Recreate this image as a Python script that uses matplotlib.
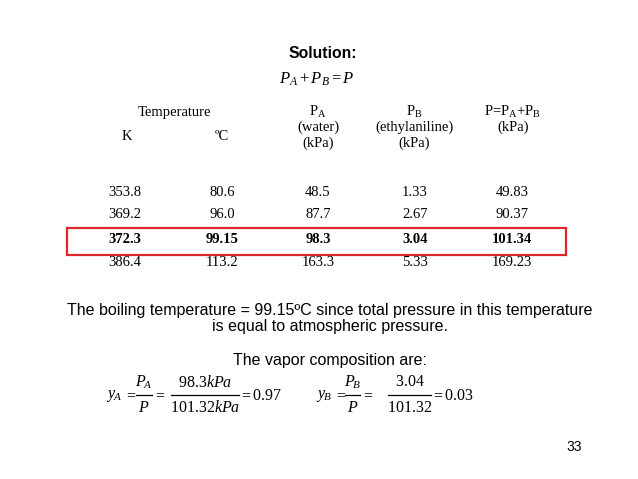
import matplotlib
matplotlib.use("Agg")
import matplotlib.pyplot as plt
from matplotlib.patches import Rectangle

plt.rcParams['mathtext.fontset'] = 'custom'
plt.rcParams['mathtext.rm'] = 'Liberation Serif'
plt.rcParams['mathtext.it'] = 'Liberation Serif:italic'
plt.rcParams['mathtext.bf'] = 'Liberation Serif:bold'

# table data (as printed on the slide)
temp_K = ["353.8", "369.2", "372.3", "386.4"]
temp_C = ["80.6", "96.0", "99.15", "113.2"]
p_water = ["48.5", "87.7", "98.3", "163.3"]
p_ethyl = ["1.33", "2.67", "3.04", "5.33"]
p_total = ["49.83", "90.37", "101.34", "169.23"]
highlight_row = 2

# vapour composition
y_A_num, y_A_den, y_A = "98.3", "101.32", "0.97"
y_B_num, y_B_den, y_B = "3.04", "101.32", "0.03"

W, H = 638, 479
fig = plt.figure(figsize=(W / 100, H / 100), dpi=100)
ax = fig.add_axes([0, 0, 1, 1])
ax.set_xlim(0, W)
ax.set_ylim(H, 0)
ax.axis('off')

sans = 'Liberation Sans'
serif = 'Liberation Serif'


def t(x, y, s, **kw):
    kw.setdefault('ha', 'center')
    kw.setdefault('va', 'center')
    ax.text(x, y, s, **kw)


t(323, 53, "Solution:", family=sans, fontweight='bold', fontsize=11.3)
t(317, 79, r"$P_A + P_B = P$", fontsize=12)

# header
hs = 10.5
t(174, 112, "Temperature", family=serif, fontsize=hs)
t(127, 137, "K", family=serif, fontsize=hs)
t(222, 137, "ºC", family=serif, fontsize=hs)
t(318, 112, r"P$_\mathrm{A}$", family=serif, fontsize=hs)
t(318, 127, "(water)", family=serif, fontsize=hs)
t(318, 143, "(kPa)", family=serif, fontsize=hs)
t(414, 112, r"P$_\mathrm{B}$", family=serif, fontsize=hs)
t(414, 127, "(ethylaniline)", family=serif, fontsize=hs)
t(414, 143, "(kPa)", family=serif, fontsize=hs)
t(513, 112, r"P=P$_\mathrm{A}$+P$_\mathrm{B}$", family=serif, fontsize=hs)
t(513, 127, "(kPa)", family=serif, fontsize=hs)

# rows
col_x = [125, 222, 318, 415, 512]
row_y = [193, 215, 239, 262]
for i, row in enumerate(zip(temp_K, temp_C, p_water, p_ethyl, p_total)):
    for x, val in zip(col_x, row):
        t(x, row_y[i], val, family=serif, fontsize=hs,
          fontweight='bold' if i == highlight_row else 'normal')

ax.add_patch(Rectangle((67, 228), 499, 27, fill=False, edgecolor='#e0262b', lw=1.6))

bs = 11.5
t(330, 310, "The boiling temperature = 99.15ºC since total pressure in this temperature",
  family=sans, fontsize=bs)
t(330, 327, "is equal to atmospheric pressure.", family=sans, fontsize=bs)
t(330, 360, "The vapor composition are:", family=sans, fontsize=bs)

# equations, laid out piece by piece
es = 11.5
ey = 395


def frac(x0, x1, num, den):
    ax.plot([x0, x1], [ey, ey], color='black', lw=0.9)
    t((x0 + x1) / 2, ey - 13, num, fontsize=es)
    t((x0 + x1) / 2, ey + 12, den, fontsize=es)


t(106, ey + 1, r"$y_{\!A}$", fontsize=es, ha='left')
t(130, ey, r"$=$", fontsize=es)
frac(136, 152, r"$P_{\!A}$", r"$P$")
t(159, ey, r"$=$", fontsize=es)
frac(171, 239, r"$\mathrm{%s}kPa$" % y_A_num, r"$\mathrm{%s}kPa$" % y_A_den)
t(245, ey, r"$=$", fontsize=es)
t(252, ey, r"$\mathrm{%s}$" % y_A, fontsize=es, ha='left')

t(316, ey + 1, r"$y_{\!B}$", fontsize=es, ha='left')
t(340, ey, r"$=$", fontsize=es)
frac(345, 360, r"$P_{\!B}$", r"$P$")
t(367, ey, r"$=$", fontsize=es)
frac(388, 431, r"$\mathrm{%s}$" % y_B_num, r"$\mathrm{%s}$" % y_B_den)
t(437, ey, r"$=$", fontsize=es)
t(444, ey, r"$\mathrm{%s}$" % y_B, fontsize=es, ha='left')

t(582, 447, "33", family=sans, fontsize=10, ha='right')

fig.savefig("out.png", dpi=100)
